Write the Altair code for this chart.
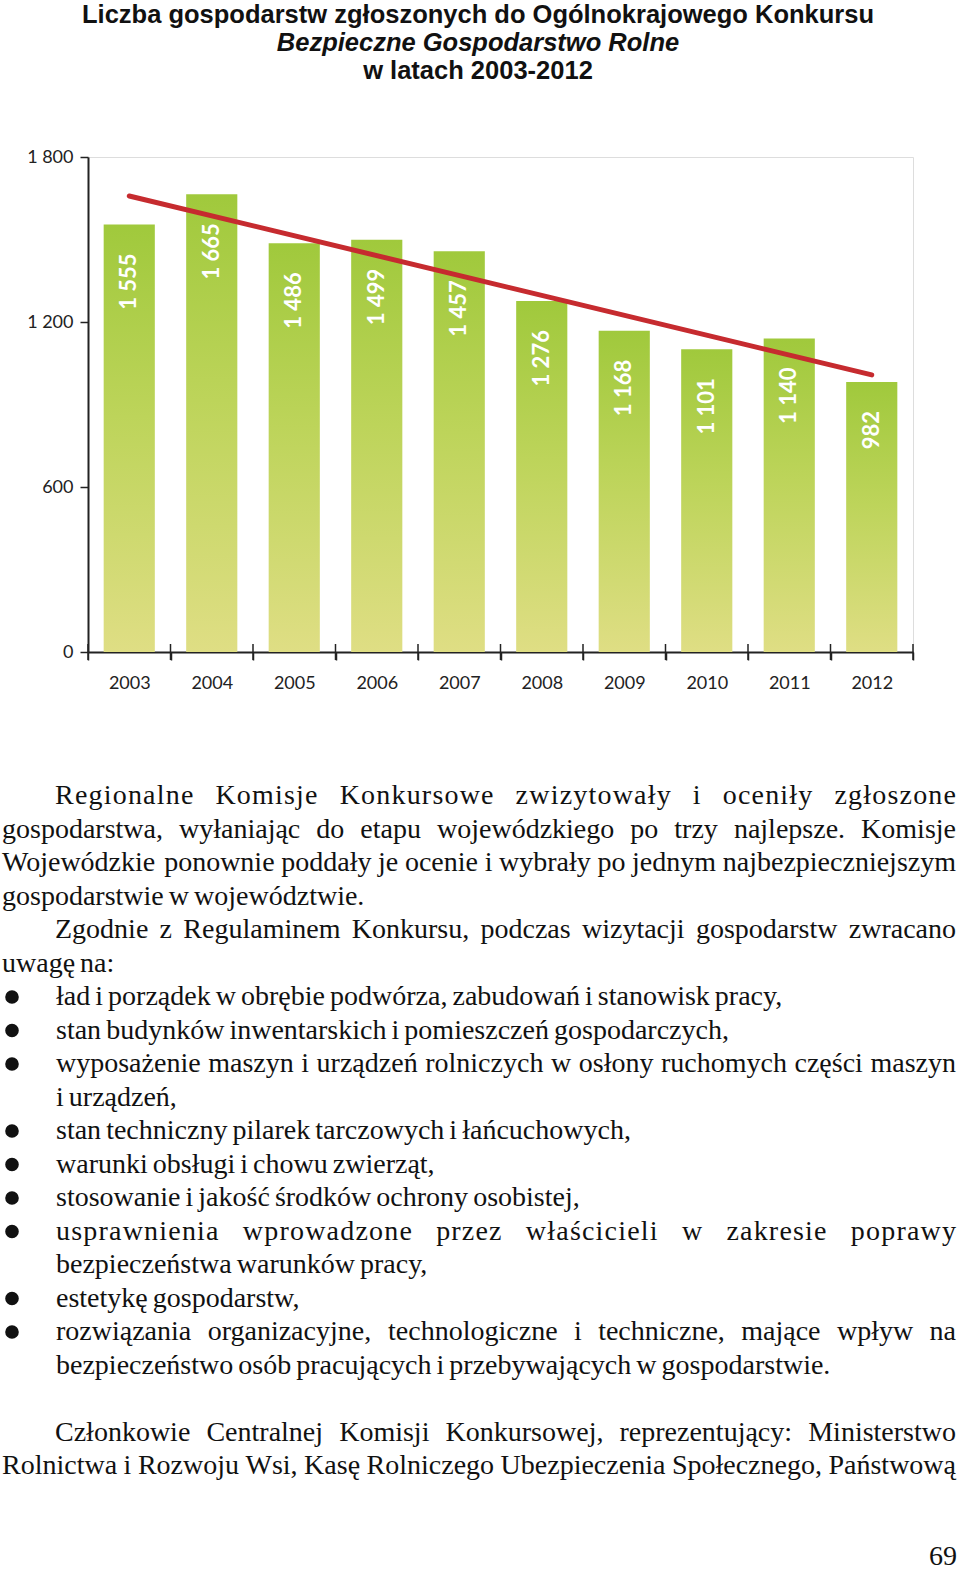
import altair as alt
import pandas as pd

# ---------------- data ----------------
years = ["2003", "2004", "2005", "2006", "2007", "2008", "2009", "2010", "2011", "2012"]
counts = [1555, 1665, 1486, 1499, 1457, 1276, 1168, 1101, 1140, 982]
y_ticks = [0, 600, 1200, 1800]

title_lines = [
    "Liczba gospodarstw zgłoszonych do Ogólnokrajowego Konkursu",
    "Bezpieczne Gospodarstwo Rolne",
    "w latach 2003-2012",
]
title_italic = [False, True, False]

body_lines = [
    "Regionalne Komisje Konkursowe zwizytowały i oceniły zgłoszone",
    "gospodarstwa, wyłaniając do etapu wojewódzkiego po trzy najlepsze. Komisje",
    "Wojewódzkie ponownie poddały je ocenie i wybrały po jednym najbezpieczniejszym",
    "gospodarstwie w województwie.",
    "Zgodnie z Regulaminem Konkursu, podczas wizytacji gospodarstw zwracano",
    "uwagę na:",
    "ład i porządek w obrębie podwórza, zabudowań i stanowisk pracy,",
    "stan budynków inwentarskich i pomieszczeń gospodarczych,",
    "wyposażenie maszyn i urządzeń rolniczych w osłony ruchomych części maszyn",
    "i urządzeń,",
    "stan techniczny pilarek tarczowych i łańcuchowych,",
    "warunki obsługi i chowu zwierząt,",
    "stosowanie i jakość środków ochrony osobistej,",
    "usprawnienia wprowadzone przez właścicieli w zakresie poprawy",
    "bezpieczeństwa warunków pracy,",
    "estetykę gospodarstw,",
    "rozwiązania organizacyjne, technologiczne i techniczne, mające wpływ na",
    "bezpieczeństwo osób pracujących i przebywających w gospodarstwie.",
    "",
    "Członkowie Centralnej Komisji Konkursowej, reprezentujący: Ministerstwo",
    "Rolnictwa i Rozwoju Wsi, Kasę Rolniczego Ubezpieczenia Społecznego, Państwową",
]
# P = paragraph start (indented), L = plain line, B = bullet item, C = bullet continuation
body_kind = ["P", "L", "L", "L", "P", "L", "B", "B", "B", "C", "B", "B", "B", "B", "C",
             "B", "B", "C", "-", "P", "L"]
body_justify = [True, True, True, False, True, False, False, False, True, False, False,
                False, False, True, False, False, True, False, False, True, True]
page_number = "69"

# ---------------- layout ----------------
PAGE_W, PAGE_H = 960, 1574
PL, PT = 88, 157          # plot area origin on the page
PW, PH = 825, 495         # plot area size

BODY_FONT = "Liberation Serif"
BODY_SIZE = 28
BASE0 = 804               # baseline of first body line (page px)
LEAD = 33.5
LEFT, INDENT, ITEM, RIGHT = 2, 55, 56, 956
BULLET_X = 12
TIGHT_SPACE = 0.18        # word space (em) of non-justified lines
LOOSE_GAP = 25            # above this word gap, justified lines get letter spacing
LETTER_SP = 1.2

# Times / Liberation Serif advance widths (1/1000 em)
TW = {' ': 250, ',': 250, '.': 250, ':': 278, '-': 333}
TW.update(dict(zip("abcdefghijklmnopqrstuvwxyz",
                   [444, 500, 444, 500, 444, 333, 500, 500, 278, 278, 500, 278, 778,
                    500, 500, 500, 500, 333, 389, 278, 500, 500, 722, 500, 500, 444])))
TW.update(dict(zip("ABCDEFGHIJKLMNOPQRSTUVWXYZ",
                   [722, 667, 667, 722, 611, 556, 722, 722, 333, 389, 722, 611, 889,
                    722, 722, 556, 722, 667, 556, 611, 722, 722, 944, 722, 722, 611])))
TW.update({'ą': 444, 'ć': 444, 'ę': 444, 'ł': 278, 'ń': 500, 'ó': 500, 'ś': 389,
           'ź': 444, 'ż': 444, 'Ł': 611, 'Ś': 556, 'Ż': 611, 'Ź': 611})


def tw(s):
    return sum(TW.get(ch, 500) for ch in s) * BODY_SIZE / 1000.0


left_rows, right_rows, bullet_rows = [], [], []
for i, (txt, kind, just) in enumerate(zip(body_lines, body_kind, body_justify)):
    if not txt:
        continue
    base = BASE0 + LEAD * i
    yy = base - PT
    start = {"P": INDENT, "L": LEFT, "B": ITEM, "C": ITEM}[kind]
    if kind == "B":
        bullet_rows.append({"x": BULLET_X - PL, "y": base - 8 - PT})
    words = txt.split(" ")
    if just:
        total = sum(tw(w) for w in words)
        gap = (RIGHT - start - total) / (len(words) - 1)
        if gap > LOOSE_GAP:
            # loose line: spread letters too, placing every character
            wid = [tw(w) + LETTER_SP * (len(w) - 1) for w in words]
            gap = (RIGHT - start - sum(wid)) / (len(words) - 1)
            x = start
            for w, ww in zip(words, wid):
                cx = x
                for ch in w:
                    left_rows.append({"t": ch, "x": cx - PL, "y": yy})
                    cx += tw(ch) + LETTER_SP
                x += ww + gap
        else:
            x = start
            for w in words[:-1]:
                left_rows.append({"t": w, "x": x - PL, "y": yy})
                x += tw(w) + gap
            right_rows.append({"t": words[-1], "x": RIGHT - PL, "y": yy})
    else:
        x = start
        for w in words:
            left_rows.append({"t": w, "x": x - PL, "y": yy})
            x += tw(w) + TIGHT_SPACE * BODY_SIZE

right_rows.append({"t": page_number, "x": 957 - PL, "y": 1565 - PT})

title_base = [23, 51, 79]
title_df = pd.DataFrame({"t": title_lines, "x": [478 - PL] * 3,
                         "y": [b - PT for b in title_base], "it": title_italic})

df = pd.DataFrame({"year": years, "count": counts})

# ---------------- chart ----------------
x_scale = alt.Scale(paddingInner=0, paddingOuter=0)
x_enc = alt.X("year:N", scale=x_scale,
              axis=alt.Axis(title=None, labelAngle=0, tickBand="extent", tickSize=8,
                            tickWidth=1.5, tickColor="#222", domainColor="#222",
                            domainWidth=2, labelFont="Lato", labelFontSize=18,
                            labelColor="#222", labelPadding=14, grid=False))
y_enc = alt.Y("count:Q",
              scale=alt.Scale(domain=[0, 1800], nice=False, zero=True),
              axis=alt.Axis(title=None, values=y_ticks, tickSize=8, tickWidth=1.5,
                            tickColor="#222", domainColor="#222", domainWidth=2,
                            labelFont="Lato", labelFontSize=18, labelColor="#222",
                            labelPadding=7, grid=False,
                            labelExpr="replace(format(datum.value, ','), ',', ' ')"))

bar_fill = alt.Gradient(
    gradient="linear", x1=0, y1=0, x2=0, y2=1,
    stops=[alt.GradientStop(color="#a0c93c", offset=0),
           alt.GradientStop(color="#bdd45a", offset=0.45),
           alt.GradientStop(color="#dfde84", offset=1)])

base = alt.Chart(df)
bars = base.mark_bar(fill=bar_fill, stroke=None,
                     width=alt.RelativeBandSize(0.62)).encode(x=x_enc, y=y_enc)

# tick marks crossing the x axis at the band boundaries
tick_style = dict(color="#222", strokeWidth=1.5)
ticks_lo = base.mark_rule(**tick_style).encode(
    x=alt.X("year:N", bandPosition=0), y=alt.value(PH - 8), y2=alt.value(PH + 8))
ticks_hi = base.transform_filter(alt.datum.year == years[-1]).mark_rule(
    **tick_style).encode(
    x=alt.X("year:N", bandPosition=1), y=alt.value(PH - 8), y2=alt.value(PH + 8))

trend = base.transform_calculate(yn="toNumber(datum.year)").transform_regression(
    "yn", "count").transform_calculate(year="toString(datum.yn)").mark_line(
    color="#c62b2f", strokeWidth=5, strokeCap="round").encode(
    x=alt.X("year:N"), y=alt.Y("count:Q"))

labels = base.transform_calculate(
    lbl="replace(format(datum.count, ','), ',', ' ')").mark_text(
    angle=270, align="right", baseline="middle", dx=-29, font="Lato",
    fontSize=22, fontWeight="bold", color="white").encode(
    x=alt.X("year:N"), y=alt.Y("count:Q"), text="lbl:N")

px = alt.X("x:Q", scale=None, axis=None)
py = alt.Y("y:Q", scale=None, axis=None)

title_plain = alt.Chart(title_df[~title_df["it"]]).mark_text(
    align="center", baseline="alphabetic", font="Liberation Sans", fontWeight="bold",
    fontSize=25.5, color="#111").encode(x=px, y=py, text="t:N")
title_it = alt.Chart(title_df[title_df["it"]]).mark_text(
    align="center", baseline="alphabetic", font="Liberation Sans", fontWeight="bold",
    fontStyle="italic", fontSize=25.5, color="#111").encode(x=px, y=py, text="t:N")

body_left = alt.Chart(pd.DataFrame(left_rows)).mark_text(
    align="left", baseline="alphabetic", font=BODY_FONT, fontSize=BODY_SIZE,
    color="#111").encode(x=px, y=py, text="t:N")
body_right = alt.Chart(pd.DataFrame(right_rows)).mark_text(
    align="right", baseline="alphabetic", font=BODY_FONT, fontSize=BODY_SIZE,
    color="#111").encode(x=px, y=py, text="t:N")
bullets = alt.Chart(pd.DataFrame(bullet_rows)).mark_circle(
    size=185, color="#111", opacity=1).encode(x=px, y=py)

chart = alt.layer(bars, ticks_lo, ticks_hi, trend, labels, title_plain, title_it,
                  body_left, body_right, bullets).properties(
    width=PW, height=PH,
    padding={"left": PL, "top": PT, "right": PAGE_W - PL - PW,
             "bottom": PAGE_H - PT - PH},
    autosize=alt.AutoSizeParams(type="none"),
).configure_view(fill="#fdfbe2", stroke=None).configure(background="white")

chart.save("out.html", embed_options={"renderer": "svg", "actions": False})
